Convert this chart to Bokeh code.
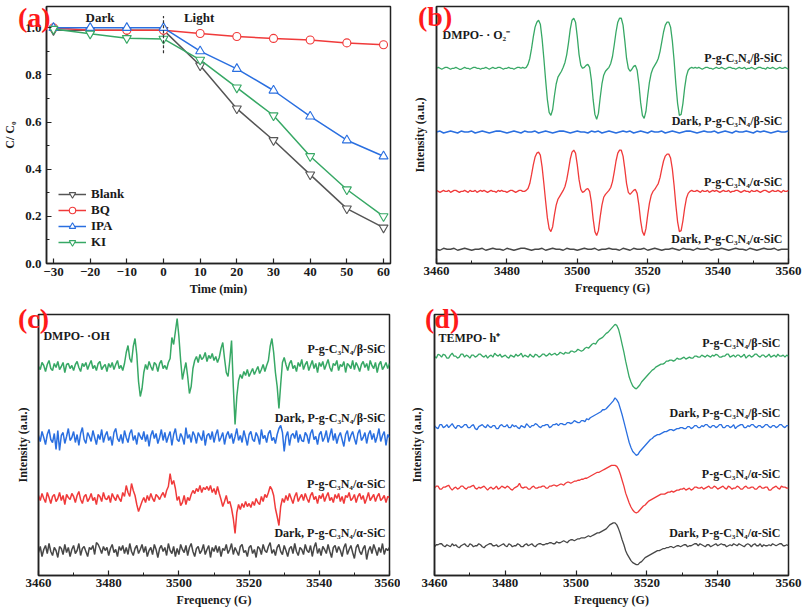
import numpy as np
from bokeh.plotting import figure
from bokeh.models import FixedTicker, Label, Legend, LegendItem, Div
from bokeh.layouts import row, column
from bokeh.embed import file_html
from bokeh.resources import INLINE

FONT = "Liberation Serif"
INK = "#1a1a1a"

# ---------------- panel (a): scavenger experiment ----------------
TIME = [-30, -20, -10, 0, 10, 20, 30, 40, 50, 60]
BLANK = [0.99, 0.99, 0.99, 0.99, 0.84, 0.657, 0.523, 0.377, 0.233, 0.152]
BQ = [1.0, 0.99, 0.99, 0.99, 0.976, 0.963, 0.955, 0.948, 0.936, 0.928]
IPA = [1.0, 1.0, 1.0, 1.0, 0.901, 0.826, 0.734, 0.624, 0.523, 0.455]
KI = [0.995, 0.975, 0.956, 0.953, 0.864, 0.746, 0.628, 0.455, 0.314, 0.20]
A_XTICKS = [-30, -20, -10, 0, 10, 20, 30, 40, 50, 60]
A_YTICKS = [0.0, 0.2, 0.4, 0.6, 0.8, 1.0]
A_YMINOR = [0.1, 0.3, 0.5, 0.7, 0.9]

# ---------------- EPR spectra (relative intensity, a.u.) ----------------
FREQ_TICKS = [3460, 3480, 3500, 3520, 3540, 3560]
FREQ_MINOR = [3470, 3490, 3510, 3530, 3550]

# (b) DMPO-·O2-  : fine grid (0.5 G) for the signal traces
B_BETA = [
    0, 1, 0, -1, 0, 1, 1, 0, -1, 0,
    0, 1, 0, -1, -1, 0, 1, 0, 0, -1,
    0, 1, 1, 0, 0, -1, 0, 0, 1, 0,
    -1, 0, 1, 0, 0, 1, 1, 0, -1, 0,
    0, 1, 0, 0, -1, 0, 1, 1, 0, 1,
    0, 1, 4, 10, 20, 32, 42, 47, 49, 45,
    30, 10, -12, -32, -45, -48, -42, -28, -16, -9,
    -6, -3, 1, 6, 14, 26, 40, 49, 51, 47,
    32, 14, 3, 0, 1, 3, 4, 1, -12, -32,
    -47, -52, -46, -30, -16, -7, -3, -1, 1, 5,
    12, 24, 37, 47, 51, 51, 44, 28, 10, 0,
    -3, -1, 2, 3, -2, -16, -35, -48, -51, -44,
    -28, -14, -5, 0, 3, 6, 10, 17, 27, 37,
    44, 47, 47, 42, 28, 8, -16, -36, -48, -47,
    -36, -20, -8, -2, 0, 1, 0,
    1, 0, 1, 0, -1, 0, 1, 1, 0, 0,
    -1, 0, 1, 0, 0, 1, 0, -1, 0, 1,
    1, 0, 0, -1, 0, 1, 0, 0, 1, -1,
    0, 0, 1, 0, -1, 0, 1, 1, 0, 0,
    -1, 1, 0, 0, 1, 0, -1, 0, 1, 0,
    0, 1, 0, -1,
]
B_ALPHA = [
    1, 0, -1, 0, 1, 0, 0, 1, -1, 0,
    1, 1, 0, -1, 0, 0, 1, 0, -1, 1,
    0, 0, 1, -1, 0, 1, 0, 1, 0, -1,
    0, 1, 0, 0, -1, 1, 0, 1, 0, 0,
    -1, 0, 1, 1, 0, -1, 0, 1, 1, 0,
    0, 1, 3, 8, 17, 27, 35, 39, 40, 37,
    25, 8, -10, -27, -38, -41, -36, -24, -14, -8,
    -5, -2, 1, 5, 12, 22, 33, 40, 42, 39,
    27, 12, 2, -1, 0, 2, 3, 0, -11, -28,
    -41, -45, -40, -26, -14, -6, -3, -1, 1, 4,
    10, 20, 31, 39, 42, 42, 36, 23, 8, -1,
    -3, -1, 1, 2, -2, -14, -30, -41, -45, -38,
    -24, -12, -4, 0, 2, 5, 8, 14, 23, 31,
    36, 38, 38, 34, 23, 6, -14, -31, -41, -40,
    -30, -17, -7, -2, 0, 1, 0,
    0, 1, 0, -1, 1, 0, 0, 1, -1, 0,
    1, 0, 1, 0, -1, 0, 1, 0, 0, 1,
    -1, 0, 0, 1, 1, 0, -1, 0, 1, 0,
    0, -1, 1, 0, 0, 1, 0, -1, 0, 1,
    1, 0, -1, 0, 1, 0, 0, 1, 0, -1,
    1, 0, 0, 1,
]
# coarse grid (1 G) for the dark traces
B_DARK_BETA = [
    0, 1, -1, 0, 1, 0, -1, 1, 0, 0,
    1, -1, 0, 1, 0, -1, 0, 1, 1, 0,
    -1, 0, 1, 0, -1, 1, 0, 0, 1, -1,
    0, 1, 0, -1, 0, 1, 1, 0, -1, 0,
    1, 0, 0, -1, 1, 0, 1, -1, 0, 1,
    0, -1, 0, 1, 0, 1, -1, 0, 1, 0,
    -1, 1, 0, 0, 1, -1, 0, 1, 0, -1,
    0, 1, 1, 0, -1, 0, 1, 0, 0, 1,
    -1, 0, 1, 0, -1, 1, 0, 0, 1, 0,
    -1, 1, 0, 1, 0, -1, 0, 1, 0, 0,
    1,
]
B_DARK_ALPHA = [
    0, -1, 1, 0, 0, 1, -1, 0, 1, 0,
    -1, 0, 0, 1, -1, 0, 1, 0, 0, -1,
    1, 0, -1, 0, 1, 1, 0, -1, 0, 0,
    1, -1, 0, 1, 0, 0, -1, 1, 0, 0,
    -1, 0, 1, 0, 0, 1, -1, 0, 0, 1,
    0, 0, -1, 1, 0, -1, 1, 0, 0, 1,
    -1, 0, 1, 0, -1, 0, 0, 1, 0, -1,
    1, 0, 0, -1, 1, 0, 0, 1, -1, 0,
    0, 1, 0, -1, 0, 1, 0, 0, -1, 1,
    0, -1, 0, 1, 0, 0, 1, -1, 0, 0,
    0,
]

# (c) DMPO-·OH : fine grid (0.5 G)
C_BETA = [
    0, -3, 4, 1, -5, 2, 6, -2, -4, 3,
    -1, 5, -3, 0, 4, -6, 2, 3, -2, 1,
    -4, 2, 5, -1, -5, 3, 0, 4, -3, 2,
    6, -2, 1, -4, 3, 5, -3, 0, 2, -5,
    3, -1, 4, -3, 2, 6, -2, 1, -4, 3,
    14, 21, 8, 4, 20, 28, 12, -15, -30, -22, -6, 2,
    -3, 5, 0, -4, 4, 2, -5, 3, 6, -2, 1, -3, 4, 8,
    29, 22, 35, 48, 30, 6, -13, -4, 4, -10, -27, -20, -2,
    6, 10, 4, 12, 7, 9, 14, 5, 11, 8, 13, 6, 10, 4, 9,
    18, 24, 8, -6, -10, 6, 26, -20, -58, -30, -14, -8,
    -12, -5, -9, -3, -10, -6, -2, -8, -4, 0, -7, -3, 2, -5, 1, 6,
    20, 28, 14, -6, -20, -42, -18, 4, 9, 2,
    -4, 3, 6, -2, 1, -5, 4, 0, 7, -3, 2, 5, -4, 1, 6, -2, 3, -6, 4, 0,
    5, -3, 2, 7, -1, -5, 3, 1, 6, -4, 2, 0, 5, -6, 3, 1, -2, 6, -3, 4,
    0, -5, 2, 5, -1, 3, -4, 6, 1, -2, 4, -6, 2, 5, -3, 0, 4, -2, 3,
]
C_DARK_BETA = [
    2, -4, 6, 0, -7, 3, 8, -2, -5, 4,
    -12, 7, -13, 2, 5, -6, 1, 9, -3, 0,
    6, -5, 3, -8, 4, 10, -2, -6, 5, 1,
    -4, 7, 0, -7, 3, -2, 8, -5, 2, 6,
    -3, 1, -8, 5, 9, -1, -4, 3, -6, 7,
    0, -5, 4, 8, -3, 2, -7, 5, 1, -2,
    6, -4, 3, -9, 2, 7, -1, 4, -6, 0,
    8, -3, 5, -5, 1, 6, -8, 3, 9, -2,
    -4, 4, 0, -7, 10, -1, 3, -5, 6, 2,
    -6, 5, 1, -3, 7, -8, 2, 4, -2, 6,
    -5, 3, 8, -4, 0, 5, -7, 2, 6, -1,
    4, -6, 1, 9, -3, 2, -5, 7, 0, -8,
    3, 6, -2, -4, 5, 1, -7, 8, -1, 2,
    -5, 4, 7, -3, 0, -6, 3, 9, 12, 5,
    -14, 1, 6, -8, 2, 4, -1, 7, -5, 3,
    -3, -4, 5, 2, -6, 4, 8, -2, 1, -7,
    3, 6, -4, 0, 7, -5, 2, 9, -3, 4,
    -6, 1, 5, -2, -9, 3, 7, -4, 2, 6,
    -1, -7, 4, 8, -3, 0, 5, -6, 3, 7,
    -2, 4, -5, 1, 9, -4, 2, 6, -8, 3,
    0,
]
C_ALPHA = [
    3, -2, 5, 0, -4, 6, 1, -5, 2, 4,
    -3, 0, 6, -2, 3, -6, 4, 1, -1, 5,
    2, -4, 3, 7, -1, -5, 2, 4, -3, 0,
    5, -2, 1, -6, 4, 2, -3, 6, 0, -1,
    3, -4, 5, 1, -2, 4, 0, -3, 6, 2,
    13, 6, 2, 15, 8, 3, -6, -13, -8, -3,
    1, -4, 3, -2, 5, 0, -3, 4, 2, -1,
    3, 6, 1, 8, 12, 25, 14, 18, 10, -2,
    2, -7, -4, 3, -6, 1, -2, 4, 8, 5,
    10, 7, 13, 6, 11, 9, 12, 8, 13, 6,
    10, 4, 12, 5, -1, -8, -3, 3, -5, -3,
    -10, -20, -35, -14, -6, -11, -5, -9, -3, -8,
    -5, -9, -3, -7, 0, -4, -6, 2, -3, 4,
    1, 6, 12, 9, 3, -10, -18, -27, -8, 0,
    -4, 3, -2, 5, 0, -5, 2, 6, -3, 1,
    4, -2, 5, 0, -4, 3, 6, -1, 2, -5,
    3, 0, 5, -3, 2, 6, -2, 1, -4, 4,
    0, 5, -3, 2, -5, 3, 1, 6, -2, 0,
    4, -4, 2, 5, -1, 3, -5, 0, 6, -2,
    1, 4, -3, 2, 5, -2, 0, 3, -4, 2,
    1,
]
C_DARK_ALPHA = [
    -2, 4, -6, 1, 5, -3, 7, -1, -5, 3,
    0, -7, 4, 2, -4, 6, -2, 3, -6, 1,
    5, -3, 0, 7, -5, 2, 4, -1, -6, 3,
    1, 5, -4, 8, 6, 2, -3, 4, 0, 3,
    -5, 2, 6, -2, 1, -6, 4, 0, 5, -3,
    3, -4, 7, -1, -5, 2, 5, -3, 1, 6,
    -2, 4, -6, 0, 3, -4, 6, 1, -7, 2,
    5, -1, 3, -5, 7, 0, -3, 4, -6, 2,
    -4, 6, 1, -2, 5, -5, 3, 7, -1, -6,
    2, 4, -3, 0, 6, -4, 1, 5, -7, 3,
    -1, 5, -2, 4, -6, 2, 0, 6, -3, 1,
    7, -4, 3, -1, -5, 4, 6, -2, 0, -6,
    3, 5, -3, 1, -7, 4, 2, -4, 6, 0,
    -2, 4, 8, -3, 1, -5, 3, 6, -1, -4,
    5, 0, -6, 2, 4, -3, 7, -1, -5, 3,
    1, -4, 6, 0, -2, 5, -6, 3, 8, -3,
    2, -5, 4, 1, -3, 6, -1, -7, 3, 5,
    -2, 4, 0, -6, 3, 7, -4, 1, 5, -2,
    -8, 3, 6, -1, -4, 2, 5, -9, 0, 4,
    -3, 6, 1, -5, 3, -2, 7, -4, 2, 0,
    3,
]

# (d) TEMPO-h+ : fine grid (0.5 G)
D_BETA = [
    0, -2, 2, 1, -1, 2, 1, -2, -2, 1,
    3, 0, 0, -2, -1, 2, 2, -1, 1, 0,
    -2, 1, 1, -1, 0, 2, 2, 0, -1, 1,
    -2, 0, 1, -1, 3, 1, 0, 2, -1, 0,
    1, -1, -2, 1, 0, -1, 2, 0, 1, 3,
    -1, 1, 0, -1, 2, 0, -1, 2, 1, -1,
    0, 2, 2, 0, 1, 3, 1, 2, 3, 1,
    2, 4, 3, 2, 4, 3, 3, 5, 5, 4,
    5, 7, 6, 5, 6, 8, 9, 8, 10, 12,
    13, 12, 15, 17, 18, 19, 21, 23, 24, 26,
    28, 30, 32, 31, 27, 20, 12, 4, -5, -13,
    -21, -26, -30, -32, -33, -31, -29, -26, -24, -22,
    -20, -18, -16, -14, -13, -11, -10, -9, -8, -8,
    -7, -5, -5, -4, -4, -5, -4, -2, -3, -3,
    -2, -1, -3, -2, -1, -2, -2, 0, 0, -1,
    -1, 1, 0, -1, 1, 0, -1, 1, 0, 2,
    1, -1, -1, 0, 0, 2, 2, -1, 0, 1,
    -1, 1, 1, -1, 0, 2, -2, 0, 1, -1,
    0, 2, 2, 0, -1, 1, 1, -1, 0, 2,
    -1, 0, 1, -1, 2, 0, 0, 1, -1, 1,
    0,
]
D_DARK_BETA = [
    1, -1, -2, 2, 2, -1, 0, 2, -1, 1,
    3, 0, -2, 1, 1, -1, 0, 2, 2, -1,
    -1, 1, 2, -2, -3, 0, 1, 2, 0, -1,
    2, 0, -1, 1, 1, -2, -2, 1, 2, 0,
    0, 2, -1, -1, 2, 0, 1, -1, -2, 1,
    0, -1, 3, 1, -1, 1, 1, 3, 2, 0,
    -1, 1, 1, 2, 2, -1, 0, 2, 2, 3,
    1, 3, 3, 2, 2, 4, 4, 3, 4, 6,
    5, 4, 4, 6, 6, 5, 8, 7, 9, 10,
    11, 12, 13, 14, 15, 17, 17, 18, 20, 22,
    24, 26, 29, 27, 24, 18, 12, 5, -2, -9,
    -16, -21, -25, -27, -29, -28, -25, -23, -21, -19,
    -17, -15, -13, -12, -10, -9, -8, -8, -7, -6,
    -5, -5, -4, -3, -3, -4, -3, -2, -2, -1,
    -1, -2, -2, 0, 0, -2, -1, 1, 1, -1,
    -1, 1, 0, 2, 2, 0, -1, 1, 1, -1,
    0, 2, 2, -1, -1, 1, 1, -1, 0, 2,
    -2, 0, 1, 2, 2, -1, -1, 1, 0, 2,
    2, 0, -1, 1, 1, -1, 0, 2, 2, 0,
    -1, 1, 1, -1, 0, 2, 2, 0, -1, 1,
    1,
]
D_ALPHA = [
    0, 2, 2, -1, -1, 1, 1, 2, 3, 0,
    -2, 0, 1, -1, 0, 2, 2, 0, -1, 1,
    1, 2, 3, 0, -1, 1, 0, 1, 2, 0,
    -2, 0, 1, -1, 0, 2, -1, 0, 2, 1,
    0, 2, 1, -1, -2, 0, 1, 2, 5, 1,
    0, 1, 1, -1, -1, 1, 2, 0, 0, 1,
    1, 2, 2, 0, 0, 2, 2, 3, 3, 2,
    3, 4, 4, 3, 5, 6, 6, 5, 6, 7,
    7, 8, 8, 9, 9, 10, 10, 11, 12, 13,
    14, 15, 16, 16, 17, 18, 19, 20, 21, 22,
    23, 23, 23, 22, 19, 14, 8, 2, -5, -10,
    -15, -19, -22, -24, -25, -24, -22, -20, -18, -17,
    -15, -13, -12, -11, -10, -9, -8, -7, -6, -6,
    -6, -5, -4, -4, -3, -4, -3, -2, -2, -1,
    -1, 0, -2, -1, 0, -2, -1, 1, 1, 0,
    0, 1, -1, 0, 1, 2, 0, 0, 2, 1,
    -1, 0, 1, 2, 0, -1, 2, 1, -1, 0,
    0, 2, 1, -1, -1, 1, 2, 0, 0, 1,
    1, -1, -1, 1, 2, 0, 0, 1, 1, -2,
    -2, 0, 1, 2, 0, -1, 2, 1, 1, 0,
    0,
]
D_DARK_ALPHA = [
    -1, 1, 1, 2, 2, 0, -1, 1, 0, -1,
    2, 0, 1, -1, -2, 0, 1, 2, 0, -1,
    2, 1, -1, 0, 0, 2, 1, -1, -2, 0,
    1, 2, 2, 0, 0, 1, -1, 0, 1, 2,
    0, -1, 2, 1, -1, 0, 0, 2, 1, -1,
    -1, 1, 2, 0, 1, 2, 0, -1, 1, 2,
    2, 1, 1, 2, 2, 3, 3, 2, 2, 4,
    3, 3, 4, 5, 4, 3, 5, 6, 6, 5,
    6, 7, 7, 8, 8, 8, 9, 10, 9, 10,
    11, 12, 13, 13, 14, 15, 16, 17, 19, 21,
    22, 23, 23, 21, 17, 12, 6, 1, -5, -9,
    -12, -15, -17, -18, -19, -19, -17, -16, -14, -12,
    -11, -10, -9, -8, -7, -6, -5, -5, -4, -3,
    -3, -2, -2, -1, -1, -2, -1, 0, 0, -1,
    0, 1, 1, -1, 0, 0, 1, 2, 2, 0,
    2, 1, 0, -1, 1, 1, -1, 0, 1, 2,
    0, 1, 2, 1, 1, -1, 0, 1, 0, 2,
    1, 0, 2, 1, 0, -1, 1, 2, 1, -1,
    1, 2, 0, 0, 2, -1, 1, 0, 0, 1,
    0, 2, 1, 0, 1, 2, 2, 0, 0, 1,
    0,
]

LBL_BETA = "P-g-C\u2083N\u2084/\u03b2-SiC"
LBL_DARK_BETA = "Dark, P-g-C\u2083N\u2084/\u03b2-SiC"
LBL_ALPHA = "P-g-C\u2083N\u2084/\u03b1-SiC"
LBL_DARK_ALPHA = "Dark, P-g-C\u2083N\u2084/\u03b1-SiC"
TAGS = ["(a)", "(b)", "(c)", "(d)"]

GREEN = "#37a865"
BLUE = "#2a6fe0"
RED = "#f03a3a"
GRAY = "#474747"

FINE = 3460 + 0.5 * np.arange(201)
COARSE = 3460 + 1.0 * np.arange(101)

for name, arr, n in [("B_BETA", B_BETA, 201), ("B_ALPHA", B_ALPHA, 201),
                     ("B_DARK_BETA", B_DARK_BETA, 101), ("B_DARK_ALPHA", B_DARK_ALPHA, 101),
                     ("C_BETA", C_BETA, 201), ("C_DARK_BETA", C_DARK_BETA, 201),
                     ("C_ALPHA", C_ALPHA, 201), ("C_DARK_ALPHA", C_DARK_ALPHA, 201),
                     ("D_BETA", D_BETA, 201), ("D_DARK_BETA", D_DARK_BETA, 201),
                     ("D_ALPHA", D_ALPHA, 201), ("D_DARK_ALPHA", D_DARK_ALPHA, 201)]:
    if len(arr) != n:
        raise SystemExit(f"{name} has {len(arr)} points, expected {n}")


def style(p, xlabel, ylabel):
    p.outline_line_color = "#222222"
    p.outline_line_width = 1.5
    p.outline_line_alpha = 1.0
    p.xgrid.visible = False
    p.ygrid.visible = False
    p.background_fill_color = "white"
    p.border_fill_color = "white"
    for ax in (p.xaxis[0], p.yaxis[0]):
        ax.axis_line_color = "#222222"
        ax.axis_line_width = 1.5
        ax.major_tick_in = 5
        ax.major_tick_out = 0
        ax.minor_tick_in = 3
        ax.minor_tick_out = 0
        ax.major_tick_line_color = "#222222"
        ax.minor_tick_line_color = "#222222"
        ax.major_tick_line_width = 1.2
        ax.minor_tick_line_width = 1.0
        ax.major_label_text_font = FONT
        ax.major_label_text_font_style = "bold"
        ax.major_label_text_font_size = "13px"
        ax.major_label_text_color = INK
        ax.axis_label_text_font = FONT
        ax.axis_label_text_font_style = "bold"
        ax.axis_label_text_font_size = "12px"
        ax.axis_label_text_color = INK
    p.xaxis.axis_label = xlabel
    p.yaxis.axis_label = ylabel


def note(p, x, y, text, align="right", size="12px"):
    p.add_layout(Label(x=x, y=y, text=text, text_font=FONT, text_font_style="bold",
                       text_font_size=size, text_color=INK, text_align=align,
                       text_baseline="middle"))


def tag(text, left, top):
    html = ('<span style="color:#ff1a1a;font-family:\'Liberation Serif\',serif;'
            'font-weight:bold;font-size:28px;line-height:1;white-space:nowrap">%s</span>' % text)
    return Div(text=html, styles={"position": "absolute", "left": "%dpx" % left,
                                  "top": "%dpx" % top, "z-index": "10",
                                  "pointer-events": "none"})


# ---------------- figure (a) ----------------
pa = figure(width=400, height=308, x_range=(-31.9, 61.9), y_range=(0, 1.0904),
            output_backend="svg", toolbar_location=None,
            min_border_left=43, min_border_right=10, min_border_top=6, min_border_bottom=45)
style(pa, "Time (min)", "C/ C\u2080")
pa.xaxis.ticker = FixedTicker(ticks=A_XTICKS, minor_ticks=[])
pa.yaxis.ticker = FixedTicker(ticks=A_YTICKS, minor_ticks=A_YMINOR)
pa.yaxis.major_label_overrides = {0.0: "0.0", 1.0: "1.0"}
pa.yaxis.major_label_standoff = 5
pa.yaxis.axis_label_standoff = 5
pa.xaxis.major_label_standoff = 4
pa.xaxis.axis_label_standoff = 3

series = [("Blank", BLANK, "#555555", "inverted_triangle"),
          ("BQ", BQ, RED, "circle"),
          ("IPA", IPA, BLUE, "triangle"),
          ("KI", KI, GREEN, "inverted_triangle")]
items = []
for name, ys, col, mk in series:
    rl = pa.line(TIME, ys, line_color=col, line_width=1.5)
    rm = pa.scatter(TIME, ys, marker=mk, size=9 if mk != "circle" else 8,
                    line_color=col, fill_color="white", line_width=1.1)
    items.append(LegendItem(label=name, renderers=[rl, rm]))
leg = Legend(items=items, location=(12, 13), glyph_width=28, glyph_height=16,
             label_height=16, spacing=0, padding=0, margin=0, label_standoff=5,
             label_text_font=FONT, label_text_font_style="bold", label_text_font_size="13px",
             label_text_color=INK, border_line_alpha=0, background_fill_alpha=0)
pa.add_layout(leg)
pa.segment(x0=[0], y0=[0.892], x1=[0], y1=[1.05], line_color="#333333", line_width=1.2,
           line_dash="3 2")
note(pa, -17.3, 1.045, "Dark", align="center", size="13px")
note(pa, 9.7, 1.045, "Light", align="center", size="13px")

# ---------------- figure (b) ----------------
pb = figure(width=403, height=308, x_range=(3460, 3560), y_range=(0, 262),
            output_backend="svg", toolbar_location=None,
            min_border_left=36, min_border_right=15, min_border_top=5, min_border_bottom=41)
style(pb, "Frequency (G)", "Intensity (a.u.)")
pb.xaxis.ticker = FixedTicker(ticks=FREQ_TICKS, minor_ticks=FREQ_MINOR)
pb.yaxis.ticker = FixedTicker(ticks=[], minor_ticks=[])
pb.yaxis.axis_label_standoff = 10
pb.xaxis.major_label_standoff = 3
pb.xaxis.axis_label_standoff = 3
pb.line(FINE, np.array(B_BETA) + 199, line_color=GREEN, line_width=1.3)
pb.line(COARSE, np.array(B_DARK_BETA) + 134, line_color=BLUE, line_width=1.6)
pb.line(FINE, np.array(B_ALPHA) + 73.5, line_color=RED, line_width=1.3)
pb.line(COARSE, np.array(B_DARK_ALPHA) + 14.5, line_color=GRAY, line_width=1.4)
note(pb, 3558.3, 209, LBL_BETA)
note(pb, 3558.3, 145, LBL_DARK_BETA)
note(pb, 3558.3, 83, LBL_ALPHA)
note(pb, 3558.3, 25, LBL_DARK_ALPHA)
note(pb, 3461.7, 233, "DMPO- \u00b7 O\u2082\u207b", align="left")

# ---------------- figure (c) ----------------
pc = figure(width=400, height=308, x_range=(3460, 3560), y_range=(0, 261),
            output_backend="svg", toolbar_location=None,
            min_border_left=38, min_border_right=11, min_border_top=6, min_border_bottom=41)
style(pc, "Frequency (G)", "Intensity (a.u.)")
pc.xaxis.ticker = FixedTicker(ticks=FREQ_TICKS, minor_ticks=FREQ_MINOR)
pc.yaxis.ticker = FixedTicker(ticks=[], minor_ticks=[])
pc.yaxis.axis_label_standoff = 9
pc.xaxis.major_label_standoff = 3
pc.xaxis.axis_label_standoff = 3
pc.line(FINE, np.array(C_BETA) + 209, line_color=GREEN, line_width=1.5)
pc.line(FINE, np.array(C_DARK_BETA) + 138, line_color=BLUE, line_width=1.5)
pc.line(FINE, np.array(C_ALPHA) + 77, line_color=RED, line_width=1.5)
pc.line(FINE, np.array(C_DARK_ALPHA) + 25, line_color=GRAY, line_width=1.5)
note(pc, 3558.9, 227, LBL_BETA)
note(pc, 3558.9, 158, LBL_DARK_BETA)
note(pc, 3558.9, 92, LBL_ALPHA)
note(pc, 3558.9, 43, LBL_DARK_ALPHA)
note(pc, 3461.4, 240, "DMPO- \u00b7OH", align="left")

# ---------------- figure (d) ----------------
pd = figure(width=403, height=308, x_range=(3460, 3560), y_range=(0, 263),
            output_backend="svg", toolbar_location=None,
            min_border_left=34, min_border_right=15, min_border_top=5, min_border_bottom=40)
style(pd, "Frequency (G)", "Intensity (a.u.)")
pd.xaxis.ticker = FixedTicker(ticks=FREQ_TICKS, minor_ticks=FREQ_MINOR)
pd.yaxis.ticker = FixedTicker(ticks=[], minor_ticks=[])
pd.yaxis.axis_label_standoff = 11
pd.xaxis.major_label_standoff = 3
pd.xaxis.axis_label_standoff = 3
pd.line(FINE, np.array(D_BETA) + 221, line_color=GREEN, line_width=1.3)
pd.line(FINE, np.array(D_DARK_BETA) + 150, line_color=BLUE, line_width=1.3)
pd.line(FINE, np.array(D_ALPHA) + 88, line_color=RED, line_width=1.3)
pd.line(FINE, np.array(D_DARK_ALPHA) + 30, line_color=GRAY, line_width=1.3)
note(pd, 3557.7, 234, LBL_BETA)
note(pd, 3557.7, 164, LBL_DARK_BETA)
note(pd, 3557.7, 102, LBL_ALPHA)
note(pd, 3557.7, 43, LBL_DARK_ALPHA)
note(pd, 3461.1, 239, "TEMPO- h\u207a", align="left")

tags = [tag(TAGS[0], 13, -1), tag(TAGS[1], 413, -2), tag(TAGS[2], 13, 300), tag(TAGS[3], 420, 300)]
layout = column(*tags, row(pa, pb), row(pc, pd))
open("out.html", "w").write(file_html(layout, INLINE))
